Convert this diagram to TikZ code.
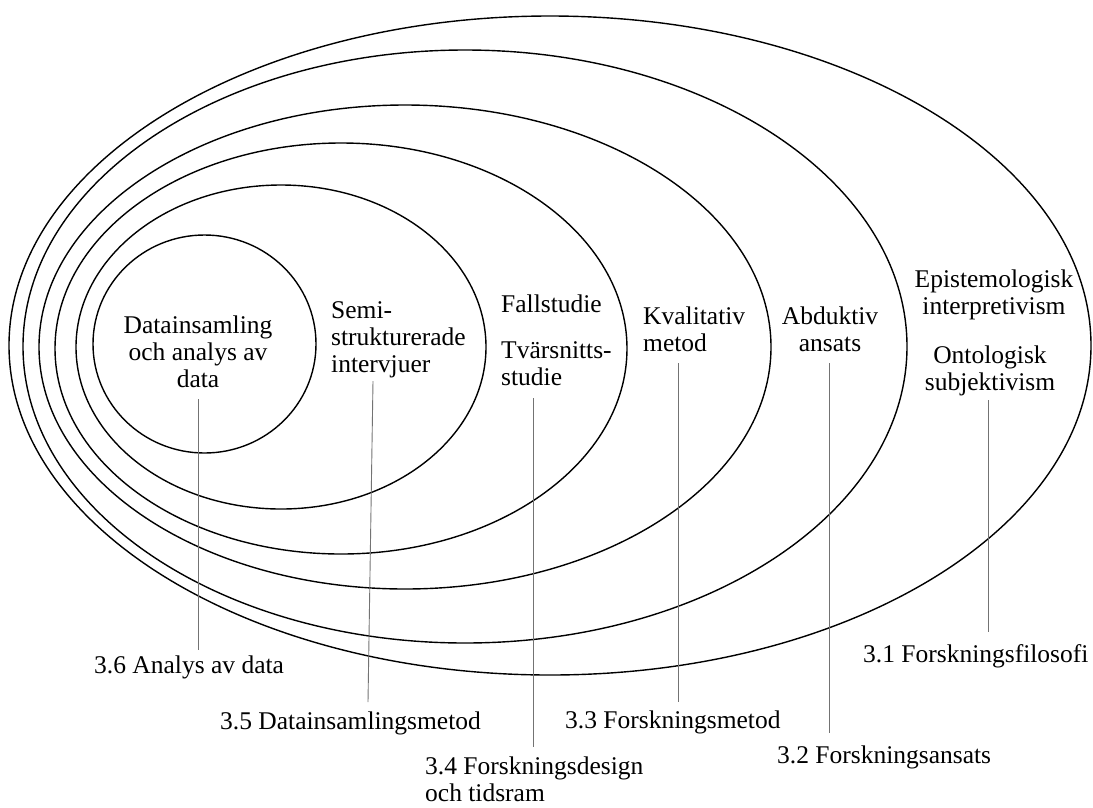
\documentclass[tikz,border=0pt]{standalone}
\usepackage{fontspec}
\setmainfont{Liberation Serif}
\begin{document}
\begin{tikzpicture}[x=1pt,y=-1pt,
  ring/.style={draw=black,line width=1.4pt},
  leader/.style={draw=black!55,line width=0.9pt},
  txt/.style={inner sep=0pt,font=\fontsize{25.5}{27}\selectfont},
  ctxt/.style={txt,align=center,anchor=north},
  ltxt/.style={txt,align=left,anchor=north west},
  lbl/.style={txt,anchor=base west}]
\useasboundingbox (0,0) rectangle (1093,807);
% nested ellipses
\draw[ring] (550,345.5) ellipse [x radius=541pt, y radius=329.5pt];
\draw[ring] (465,346.5) ellipse [x radius=442pt, y radius=296.5pt];
\draw[ring] (405,347) ellipse [x radius=366pt, y radius=242pt];
\draw[ring] (341,348.5) ellipse [x radius=286pt, y radius=205.5pt];
\draw[ring] (281,347) ellipse [x radius=205pt, y radius=162pt];
\draw[ring] (204.5,344) ellipse [x radius=111.5pt, y radius=109pt];
% texts inside rings
\node[ctxt] (t6) at (198,315.6) {Datainsamling\\och analys av\\data};
\node[ltxt] (t5) at (331,301.6) {Semi-\\strukturerade\\intervjuer};
\node[lbl] (t4a) at (501,312) {Fallstudie};
\node[ltxt] (t4b) at (501,341.1) {Tvärsnitts-\\studie};
\node[ltxt] (t3) at (643,306.6) {Kvalitativ\\metod};
\node[ctxt] (t2) at (830,306.6) {Abduktiv\\ansats};
\node[ctxt] (t1a) at (994,269.6) {Epistemologisk\\interpretivism};
\node[ctxt] (t1b) at (990,345.6) {Ontologisk\\subjektivism};
% section labels
\node[lbl] (l6) at (94,673) {3.6 Analys av data};
\node[lbl] (l5) at (220,729) {3.5 Datainsamlingsmetod};
\node[ltxt] (l4) at (425,756.6) {3.4 Forskningsdesign\\och tidsram};
\node[lbl] (l3) at (565,728) {3.3 Forskningsmetod};
\node[lbl] (l2) at (777,763) {3.2 Forskningsansats};
\node[lbl] (l1) at (863,662) {3.1 Forskningsfilosofi};
% leader line end points
\coordinate (a6) at (198,399);   \coordinate (b6) at (198,650);
\coordinate (a5) at (373,381);   \coordinate (b5) at (368,702);
\coordinate (a4) at (533,398);   \coordinate (b4) at (533,747);
\coordinate (a3) at (678,363);   \coordinate (b3) at (678,702);
\coordinate (a2) at (829,363);   \coordinate (b2) at (829,733);
\coordinate (a1) at (988,400);   \coordinate (b1) at (988,632);
\draw[leader] (a6) -- (b6);
\draw[leader] (a5) -- (b5);
\draw[leader] (a4) -- (b4);
\draw[leader] (a3) -- (b3);
\draw[leader] (a2) -- (b2);
\draw[leader] (a1) -- (b1);
\end{tikzpicture}
\end{document}
